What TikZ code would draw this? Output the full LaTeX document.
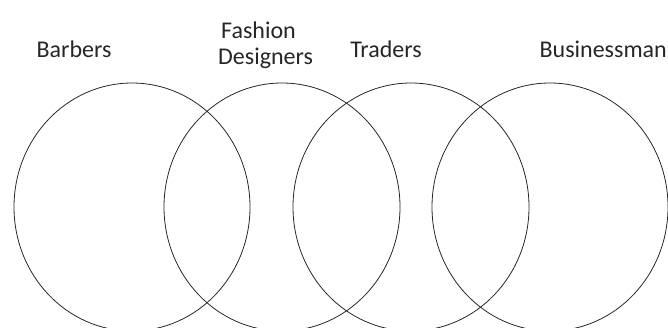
\documentclass[tikz,border=0pt]{standalone}
\usepackage{fontspec}
\setmainfont{Carlito}
\begin{document}
\begin{tikzpicture}[x=1pt,y=-1pt,
  setring/.style={draw=black!85, line width=0.8pt},
  lbl/.style={font=\fontsize{24}{28}\selectfont, inner sep=0pt, anchor=base, text=black!85}]
\useasboundingbox (0,0) rectangle (668,327);
\draw[setring] (132,207) ellipse [x radius=118, y radius=124];
\draw[setring] (282,207) ellipse [x radius=118, y radius=124];
\draw[setring] (411,207) ellipse [x radius=118, y radius=124];
\draw[setring] (550,207) ellipse [x radius=118, y radius=124];
\node[lbl] (barbers) at (74,57) {Barbers};
\node[lbl, anchor=base west] (fashion) at (221,38) {Fashion};
\node[lbl, anchor=base west] (designers) at (218,64) {Designers};
\node[lbl] (traders) at (386,57) {Traders};
\node[lbl, anchor=base east] (business) at (667,57) {Businessman};
\end{tikzpicture}
\end{document}
